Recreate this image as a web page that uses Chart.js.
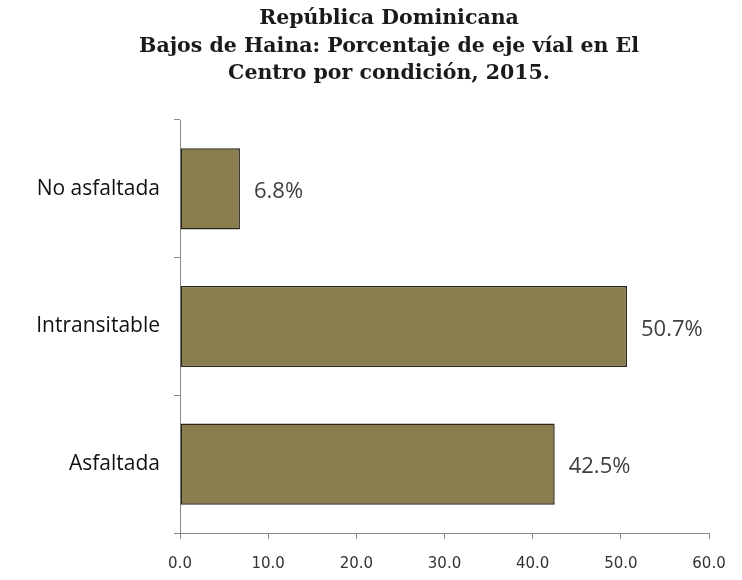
<!DOCTYPE html>
<html>
<head>
<meta charset="utf-8">
<script src="https://cdn.jsdelivr.net/npm/chart.js@4.4.0/dist/chart.umd.min.js"></script>
<style>
  body { margin: 0; background: #fff; }
  #wrap { width: 742px; height: 580px; }
</style>
</head>
<body>
<div id="wrap"><canvas id="myChart" width="742" height="580"></canvas></div>
<script>
const categorias = ["No asfaltada", "Intransitable", "Asfaltada"];
const porcentajes = [6.8, 50.7, 42.5];
const etiquetas = ["6.8%", "50.7%", "42.5%"];
const tituloLineas = [
  "República Dominicana",
  "Bajos de Haina: Porcentaje de eje víal en El",
  "Centro por condición, 2015."
];

// titulo centrado como en la imagen original
const tituloPropio = {
  id: "tituloPropio",
  afterDraw(chart) {
    const ctx = chart.ctx;
    ctx.save();
    ctx.font = "bold 20.5px 'DejaVu Serif', serif";
    ctx.fillStyle = "#1a1a1a";
    ctx.textAlign = "center";
    ctx.textBaseline = "middle";
    tituloLineas.forEach((linea, i) => {
      ctx.fillText(linea, 389, 19 + i * 27.5);
    });
    ctx.restore();
  }
};

const etiquetasBarras = {
  id: "etiquetasBarras",
  afterDatasetsDraw(chart) {
    const ctx = chart.ctx;
    const meta = chart.getDatasetMeta(0);
    ctx.save();
    ctx.font = "22px 'Open Sans', sans-serif";
    ctx.fillStyle = "#404040";
    ctx.textAlign = "left";
    ctx.textBaseline = "middle";
    meta.data.forEach((bar, i) => {
      ctx.fillText(etiquetas[i], bar.x + 14, bar.y + 3);
    });
    ctx.restore();
  }
};

const ctx = document.getElementById("myChart").getContext("2d");
const myChart = new Chart(ctx, {
  type: "bar",
  data: {
    labels: categorias,
    datasets: [
      {
        data: porcentajes,
        backgroundColor: "#8b7e4e",
        borderColor: "#2a2618",
        borderWidth: 1.5,
        borderSkipped: false,
        barPercentage: 0.59,
        categoryPercentage: 1.0,
      },
    ],
  },
  options: {
    indexAxis: "y",
    responsive: false,
    animation: false,
    layout: { padding: { left: 6, right: 33, top: 120, bottom: 0 } },
    plugins: {
      legend: { display: false },
      tooltip: { enabled: false },
      title: { display: false },
    },
    scales: {
      x: {
        min: 0,
        max: 60,
        afterFit(scale) { scale.height = 47; },
        ticks: {
          stepSize: 10,
          color: "#333",
          font: { family: "'DejaVu Sans', sans-serif", size: 15 },
          padding: 16,
          callback: (v) => v.toFixed(1),
        },
        grid: { drawOnChartArea: false, tickLength: 6, color: "#888" },
        border: { color: "#888", width: 1 },
      },
      y: {
        offset: true,
        afterFit(scale) { scale.width = 174; },
        ticks: {
          color: "#111",
          font: { family: "'Open Sans', sans-serif", size: 21 },
          padding: 14,
        },
        grid: { drawOnChartArea: false, offset: true, tickLength: 6, color: "#888" },
        border: { color: "#888", width: 1 },
      },
    },
  },
  plugins: [etiquetasBarras, tituloPropio],
});
</script>
</body>
</html>
